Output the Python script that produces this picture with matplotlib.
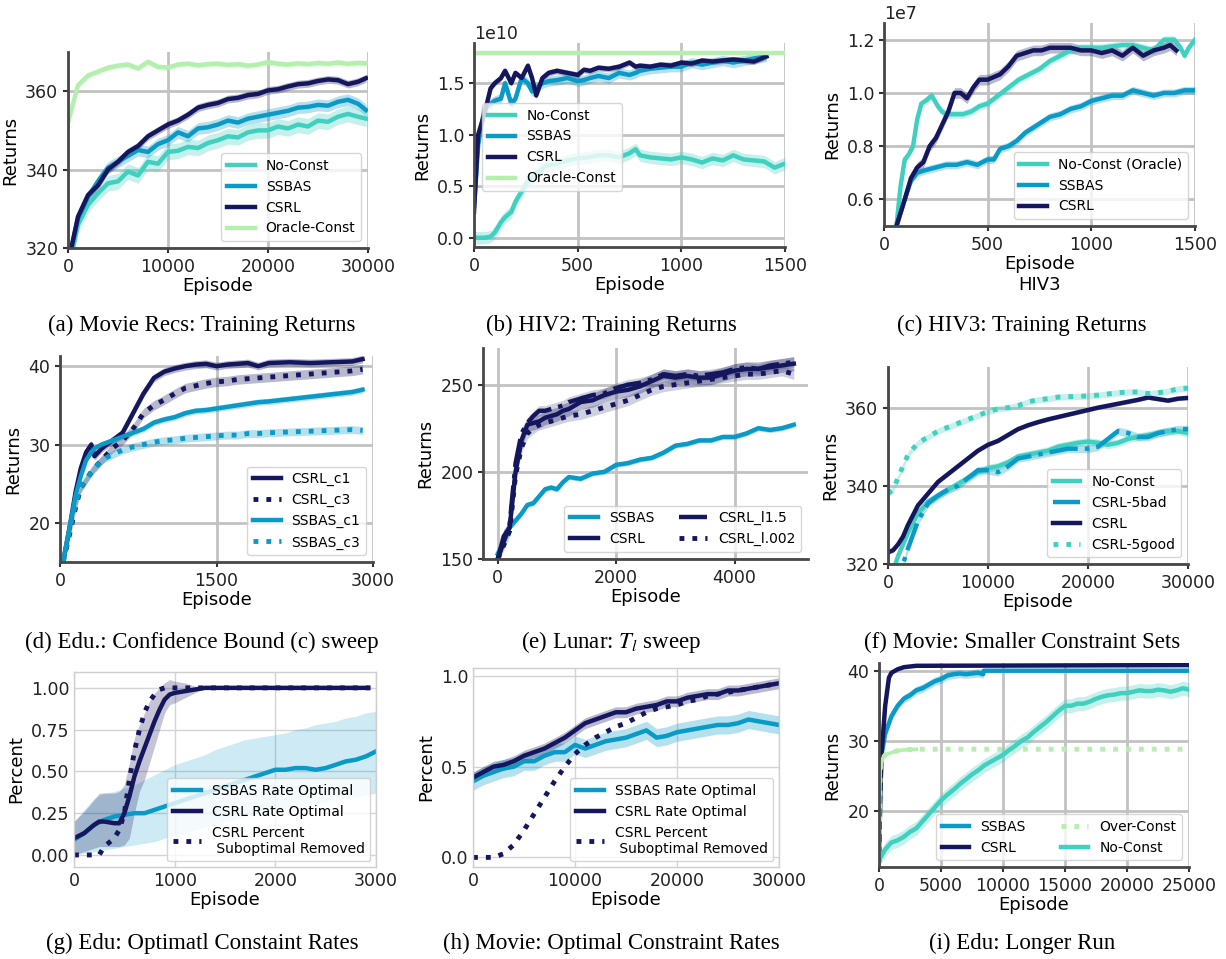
import matplotlib
matplotlib.use("Agg")
import numpy as np
import matplotlib.pyplot as plt

plt.rcParams['font.family'] = ['DejaVu Sans']
plt.rcParams['mathtext.fontset'] = 'stix'

TURQ = '#40d0c0'
SSB = '#0a9ac8'
NAVY = '#15175e'
LGREEN = '#b4efae'

# ---------------- data ----------------
# (a) Movie Recs: training returns
a_x = [0, 1000, 2000, 3000, 4000, 5000, 6000, 7000, 8000, 9000, 10000, 11000, 12000, 13000, 14000, 15000,
       16000, 17000, 18000, 19000, 20000, 21000, 22000, 23000, 24000, 25000, 26000, 27000, 28000, 29000, 29800]
a_oracle = [352, 361.5, 364, 365, 366, 366.5, 366.8, 365.8, 367.5, 366.2, 366, 366.8, 367, 366.6, 366.9, 367,
            366.7, 366.9, 366.5, 366.8, 367.4, 367, 366.8, 367.1, 366.9, 367.2, 367, 367.3, 367, 367.2, 367.1]
a_csrl = [316, 328, 333.5, 336, 340, 342, 344.5, 346, 348.5, 350, 351.5, 352.5, 354, 355.8, 356.5, 357,
          358, 358.3, 359, 359.3, 360.2, 360.5, 361.2, 361.8, 362, 362.6, 363, 362.8, 361.8, 362.4, 363.3]
a_ssbas = [316, 327.5, 333, 337, 340.5, 342, 343.5, 345, 344.5, 346.5, 347.5, 349.5, 348.5, 350.5, 350.8, 351.5,
           352.5, 352, 353, 353.5, 354, 354.5, 355, 355.8, 356, 356.5, 356.3, 357.3, 357.8, 356.8, 355.2]
a_noconst = [314, 326, 331, 334, 336.5, 337, 339.5, 338.5, 342, 341.5, 344.5, 344.8, 345.8, 345.5, 346.8, 347.5,
             348.5, 348.2, 349.5, 350, 350, 351, 350.5, 351.5, 351, 352.5, 352.2, 353.5, 354.2, 353.5, 353]

# (b) HIV2 (x1e10)
b_x = [0, 20, 50, 80, 100, 130, 150, 180, 200, 230, 260, 280, 300, 330, 360, 400, 450, 500, 530, 560,
       600, 650, 700, 750, 780, 800, 850, 900, 950, 1000, 1050, 1100, 1150, 1200, 1250, 1300, 1350, 1410]
b_csrl = [0.25, 1.0, 1.2, 1.45, 1.5, 1.55, 1.62, 1.5, 1.6, 1.55, 1.67, 1.55, 1.38, 1.55, 1.6, 1.62, 1.6, 1.58, 1.63, 1.62,
          1.65, 1.64, 1.66, 1.7, 1.66, 1.67, 1.66, 1.68, 1.67, 1.7, 1.69, 1.72, 1.71, 1.72, 1.73, 1.72, 1.71, 1.76]
b_ssbas = [0.3, 0.9, 1.25, 1.3, 1.33, 1.35, 1.5, 1.3, 1.35, 1.55, 1.5, 1.42, 1.45, 1.5, 1.52, 1.53, 1.55, 1.52, 1.53, 1.55,
           1.57, 1.55, 1.6, 1.58, 1.6, 1.62, 1.64, 1.65, 1.66, 1.66, 1.7, 1.68, 1.7, 1.72, 1.7, 1.72, 1.74, 1.76]
b_nc_x = [0, 50, 80, 100, 130, 150, 180, 200, 230, 260, 300, 350, 400, 450, 500, 550, 600, 650, 700, 750,
          780, 800, 850, 900, 950, 1000, 1050, 1100, 1150, 1200, 1250, 1300, 1350, 1400, 1450, 1500]
b_noconst = [0.0, 0.0, 0.01, 0.05, 0.15, 0.2, 0.25, 0.35, 0.45, 0.55, 0.62, 0.7, 0.72, 0.75, 0.77, 0.78, 0.8, 0.8, 0.78, 0.82,
             0.86, 0.8, 0.78, 0.77, 0.76, 0.78, 0.76, 0.73, 0.77, 0.75, 0.8, 0.76, 0.75, 0.74, 0.68, 0.72]
b_oracle_x = [0, 1500]
b_oracle = [1.79, 1.79]

# (c) HIV3 (x1e7)
c_nc_x = [60, 80, 100, 120, 140, 160, 180, 200, 230, 260, 280, 300, 330, 380, 420, 460, 500, 550, 600, 650,
          700, 750, 800, 850, 900, 950, 1000, 1050, 1100, 1150, 1200, 1250, 1300, 1350, 1400, 1430, 1450, 1470, 1500]
c_noconst = [0.5, 0.65, 0.75, 0.77, 0.8, 0.9, 0.96, 0.97, 0.99, 0.95, 0.93, 0.92, 0.92, 0.92, 0.93, 0.95, 0.96, 0.99, 1.02, 1.05,
             1.07, 1.09, 1.12, 1.14, 1.16, 1.17, 1.17, 1.17, 1.175, 1.18, 1.18, 1.17, 1.16, 1.2, 1.2, 1.17, 1.14, 1.17, 1.2]
c_csrl_x = [60, 100, 130, 160, 190, 220, 250, 280, 310, 340, 370, 400, 430, 460, 500, 530, 560, 600, 640, 680,
            720, 760, 800, 850, 900, 950, 1000, 1050, 1100, 1150, 1200, 1250, 1300, 1350, 1380, 1410]
c_csrl = [0.5, 0.6, 0.68, 0.72, 0.74, 0.8, 0.83, 0.88, 0.93, 1.0, 1.0, 0.98, 1.02, 1.05, 1.05, 1.06, 1.07, 1.1, 1.14, 1.15,
          1.16, 1.16, 1.17, 1.17, 1.17, 1.16, 1.16, 1.15, 1.16, 1.14, 1.17, 1.14, 1.16, 1.17, 1.18, 1.16]
c_ssbas_x = [60, 100, 130, 160, 200, 250, 300, 350, 400, 450, 500, 530, 560, 600, 640, 680, 720, 760, 800, 850,
             900, 950, 1000, 1050, 1100, 1150, 1200, 1250, 1300, 1350, 1400, 1450, 1500]
c_ssbas = [0.5, 0.6, 0.67, 0.7, 0.71, 0.72, 0.73, 0.73, 0.74, 0.73, 0.75, 0.75, 0.79, 0.8, 0.82, 0.85, 0.87, 0.89, 0.91, 0.92,
           0.94, 0.95, 0.97, 0.98, 0.99, 0.99, 1.01, 1.0, 0.99, 1.0, 1.0, 1.01, 1.01]

# (d) Edu confidence bound sweep
d_x = [30, 100, 150, 200, 250, 300, 330, 400, 500, 600, 700, 800, 900, 1000, 1100, 1200, 1300, 1400, 1500,
       1600, 1700, 1800, 1900, 2000, 2200, 2400, 2600, 2800, 2900]
d_csrl_c1 = [15, 20, 24, 27, 29, 30, 28.5, 29.5, 30.5, 31.5, 34, 36.5, 38.5, 39.3, 39.7, 40, 40.2, 40.3, 40,
             40.2, 40.3, 40.4, 40, 40.4, 40.5, 40.4, 40.5, 40.6, 40.9]
d_csrl_c3 = [15, 19, 22, 24.5, 25.5, 26.5, 27, 28, 29.5, 30.5, 32, 34, 35, 35.7, 36.5, 37.2, 37.5, 37.8, 38,
             38.1, 38.3, 38.4, 38.5, 38.6, 38.8, 39, 39.2, 39.4, 39.6]
d_ssbas_c1 = [15, 20, 23.5, 26, 28, 29, 29.5, 30, 30.5, 31, 31.5, 32, 32.8, 33.2, 33.5, 34, 34.3, 34.4, 34.6,
              34.8, 35, 35.2, 35.4, 35.5, 35.8, 36.1, 36.4, 36.7, 37]
d_ssbas_c3 = [15, 19.5, 22.5, 24.5, 25.5, 26.5, 27, 28, 28.7, 29.3, 29.7, 30, 30.3, 30.5, 30.6, 30.8, 30.9, 31, 31.1,
              31.2, 31.2, 31.4, 31.4, 31.5, 31.6, 31.7, 31.8, 31.9, 31.8]

# (e) Lunar T_l sweep
e_x = [0, 100, 200, 300, 400, 500, 600, 700, 800, 900, 1000, 1100, 1200, 1400, 1600, 1800, 2000, 2200, 2400, 2600,
       2800, 3000, 3200, 3400, 3600, 3800, 4000, 4200, 4400, 4600, 4800, 5000]
e_ssbas = [153, 160, 168, 172, 176, 181, 182, 186, 190, 191, 190, 194, 197, 196, 199, 200, 204, 205, 207, 208,
           211, 215, 216, 218, 218, 220, 220, 222, 225, 224, 225, 227]
e_csrl = [150, 163, 168, 200, 218, 227, 228, 229, 231, 232, 233, 235, 236, 240, 241, 244, 246, 247, 249, 252,
          255, 254, 255, 254, 254, 256, 258, 259, 259, 260, 261, 262]
e_l15 = [150, 160, 170, 205, 222, 228, 232, 235, 235, 236, 237, 238, 240, 242, 244, 245, 248, 250, 251, 253,
         256, 255, 256, 255, 256, 257, 259, 260, 259, 261, 262, 263]
e_l002 = [150, 158, 166, 198, 214, 222, 225, 227, 228, 229, 230, 231, 232, 233, 235, 237, 239, 241, 244, 247,
          249, 250, 251, 252, 253, 254, 255, 256, 256, 257, 258, 256]

# (f) Movie smaller constraint sets
f_x = [0, 500, 1000, 1500, 2000, 3000, 4000, 5000, 6000, 7000, 8000, 9000, 10000, 11000, 12000, 13000, 14000,
       15000, 16000, 17000, 18000, 19000, 20000, 21000, 22000, 23000, 24000, 25000, 26000, 27000, 28000, 29000, 30000]
f_good = [338, 339, 342, 345, 348, 351, 352.5, 354, 355, 356, 357, 358, 359, 359.7, 360, 360.5, 361.5,
          362, 362.3, 362.7, 362.8, 362.9, 363, 363.2, 363.5, 363.8, 364, 364, 363.6, 363.8, 364.2, 364.8, 365]
f_csrl = [323, 323.5, 325, 327, 330, 335, 338, 341, 343, 345, 347, 349, 350.5, 351.5, 353, 354.5, 355.5,
          356.3, 357, 357.6, 358.2, 358.8, 359.4, 360, 360.5, 361, 361.5, 362, 362.6, 362.2, 361.8, 362.3, 362.5]
f_noconst = [316, 318, 322, 325, 328, 333, 336, 337.5, 339, 340.5, 342, 343.5, 344.5, 345, 346, 347.5, 348,
             348.5, 349, 350, 350.5, 351, 351.3, 351, 350.5, 351, 352, 352.5, 353, 353.5, 354, 354, 353.5]
f_bad = [300, 310, 316, 320, 324, 331, 335.5, 337.5, 339, 340, 342, 344, 344, 343.5, 345, 347, 347.5,
         348, 348.5, 349, 349.5, 349.5, 349.5, 350, 352, 354, 353.5, 352.5, 352.5, 353.5, 354, 354.5, 354.5]

# (g) Edu optimal constraint rates
g_sx = [0, 100, 200, 300, 400, 500, 600, 700, 800, 900, 1000, 1100, 1200, 1300, 1400, 1500, 1600, 1700, 1800,
        1900, 2000, 2100, 2200, 2300, 2400, 2500, 2600, 2700, 2800, 2900, 3000]
g_ssbas = [0.09, 0.13, 0.18, 0.21, 0.23, 0.24, 0.25, 0.25, 0.27, 0.29, 0.31, 0.33, 0.35, 0.37, 0.39, 0.41, 0.43,
           0.45, 0.47, 0.49, 0.51, 0.51, 0.52, 0.52, 0.51, 0.52, 0.54, 0.56, 0.57, 0.59, 0.62]
g_ssbas_lo = [0.0, 0.01, 0.02, 0.03, 0.04, 0.05, 0.06, 0.07, 0.08, 0.1, 0.12, 0.13, 0.15, 0.17, 0.18, 0.2, 0.21,
              0.23, 0.24, 0.26, 0.27, 0.28, 0.29, 0.3, 0.31, 0.32, 0.33, 0.34, 0.35, 0.36, 0.37]
g_ssbas_hi = [0.2, 0.27, 0.34, 0.37, 0.38, 0.4, 0.42, 0.45, 0.48, 0.51, 0.54, 0.56, 0.58, 0.6, 0.63, 0.65, 0.67,
              0.69, 0.7, 0.71, 0.72, 0.73, 0.75, 0.76, 0.78, 0.79, 0.8, 0.82, 0.83, 0.85, 0.86]
g_cx = [0, 100, 200, 250, 300, 400, 450, 500, 550, 600, 650, 700, 750, 800, 850, 900, 950, 1000, 1100, 1200,
        1300, 1500, 2000, 2500, 2910]
g_csrl = [0.1, 0.13, 0.18, 0.2, 0.2, 0.19, 0.19, 0.25, 0.35, 0.47, 0.56, 0.64, 0.72, 0.8, 0.87, 0.93, 0.96, 0.97,
          0.98, 0.99, 1.0, 1.0, 1.0, 1.0, 1.0]
g_csrl_lo = [0.0, 0.02, 0.04, 0.05, 0.05, 0.05, 0.05, 0.06, 0.1, 0.25, 0.38, 0.45, 0.55, 0.65, 0.75, 0.85, 0.9, 0.91,
             0.94, 0.97, 1.0, 1.0, 1.0, 1.0, 1.0]
g_csrl_hi = [0.2, 0.26, 0.33, 0.37, 0.37, 0.37, 0.38, 0.42, 0.55, 0.7, 0.78, 0.85, 0.92, 0.97, 1.0, 1.03, 1.05, 1.04,
             1.03, 1.01, 1.0, 1.0, 1.0, 1.0, 1.0]
g_rx = [0, 250, 300, 400, 450, 500, 550, 600, 650, 700, 750, 800, 850, 900, 1000, 2000, 3000]
g_removed = [0.0, 0.0, 0.05, 0.1, 0.15, 0.25, 0.45, 0.62, 0.75, 0.85, 0.92, 0.96, 0.99, 1.0, 1.0, 1.0, 1.0]

# (h) Movie optimal constraint rates
h_x = [0, 1000, 2000, 3000, 4000, 5000, 6000, 7000, 8000, 9000, 10000, 11000, 12000, 13000, 14000, 15000,
       16000, 17000, 18000, 19000, 20000, 21000, 22000, 23000, 24000, 25000, 26000, 27000, 28000, 29000, 30000]
h_ssbas = [0.42, 0.45, 0.47, 0.49, 0.5, 0.53, 0.53, 0.56, 0.58, 0.58, 0.62, 0.6, 0.62, 0.64, 0.65, 0.66,
           0.68, 0.7, 0.66, 0.67, 0.69, 0.7, 0.71, 0.72, 0.73, 0.73, 0.74, 0.76, 0.75, 0.74, 0.73]
h_csrl = [0.44, 0.47, 0.5, 0.51, 0.53, 0.56, 0.58, 0.6, 0.63, 0.66, 0.7, 0.74, 0.76, 0.78, 0.8, 0.8,
          0.82, 0.83, 0.84, 0.86, 0.86, 0.88, 0.89, 0.9, 0.9, 0.92, 0.92, 0.93, 0.94, 0.95, 0.96]
h_removed = [0.0, 0.0, 0.0, 0.02, 0.07, 0.15, 0.24, 0.33, 0.42, 0.5, 0.57, 0.62, 0.66, 0.69, 0.72, 0.74,
             0.77, 0.8, 0.82, 0.83, 0.84, 0.86, 0.87, 0.89, 0.9, 0.91, 0.92, 0.93, 0.94, 0.95, 0.96]

# (i) Edu longer run
i_csrl_x = [0, 100, 200, 500, 800, 1000, 1500, 2000, 3000, 25000]
i_csrl = [13, 22, 28, 35, 39, 39.7, 40.2, 40.5, 40.7, 40.8]
i_ssbas_x = [0, 100, 200, 500, 1000, 1500, 2000, 2500, 3000, 3500, 4000, 4500, 5000, 5500, 6000, 6500, 7000,
             7500, 8000, 8400, 8450, 25000]
i_ssbas = [13, 22, 28, 31, 33.5, 35, 36, 36.5, 37.2, 37.5, 38, 38.5, 38.8, 39.3, 39.5, 39.6, 39.5,
           39.6, 39.7, 39.5, 40, 40]
i_over_x = [0, 100, 300, 500, 1000, 1500, 2000, 3000, 25000]
i_over = [13, 26, 27.5, 28, 28.3, 28.6, 28.7, 28.8, 28.8]
i_nc_x = list(range(0, 25001, 500))
i_noconst = [13, 14.5, 15.5, 15.8, 16.3, 17, 17.5, 18.5, 19.5, 20.5, 21.5, 22.3, 23, 23.8, 24.5, 25.2, 25.8,
             26.5, 27, 27.5, 28, 28.7, 29.3, 30, 30.5, 31.3, 32, 32.7, 33.5, 34.3, 35, 35, 35.3, 35.3, 35.6,
             36, 36.3, 36.5, 36.6, 36.8, 36.8, 37, 37.2, 37.1, 37.1, 37.3, 37.2, 37, 37.2, 37.5, 37.3]

captions = ['(a) Movie Recs: Training Returns', '(b) HIV2: Training Returns', '(c) HIV3: Training Returns',
            '(d) Edu.: Confidence Bound (c) sweep', '(e) Lunar: $T_l$ sweep', '(f) Movie: Smaller Constraint Sets',
            '(g) Edu: Optimatl Constaint Rates', '(h) Movie: Optimal Constraint Rates', '(i) Edu: Longer Run']

# ---------------- layout ----------------
W, H = 1226, 959
fig = plt.figure(figsize=(W / 100, H / 100), dpi=100)
LW = 3.2
TICK = 12.5


def add_ax(l, t, r, b):
    return fig.add_axes([l / W, 1 - b / H, (r - l) / W, (b - t) / H])


def style_dark(ax):
    ax.grid(True, color='#c2c2c2', lw=2)
    ax.set_axisbelow(True)
    for s in ['top', 'right']:
        ax.spines[s].set_visible(False)
    for s in ['left', 'bottom']:
        ax.spines[s].set_color('#484848')
        ax.spines[s].set_linewidth(2)
    ax.tick_params(labelsize=TICK, length=3.5, width=1.5, color='#333333', labelcolor='#222222')


def style_light(ax):
    ax.grid(True, color='#d4d4d4', lw=1)
    ax.set_axisbelow(True)
    for s in ax.spines.values():
        s.set_color('#cfcfcf')
        s.set_linewidth(1)
    ax.tick_params(labelsize=TICK, length=0, labelcolor='#222222')


def band(ax, x, y, w, color, alpha=0.3):
    y = np.asarray(y, dtype=float)
    ax.fill_between(x, y - w, y + w, color=color, alpha=alpha, lw=0)


def legend(ax, **kw):
    opts = dict(fontsize=10, framealpha=0.8, edgecolor='#cccccc', handlelength=2.0)
    opts.update(kw)
    return ax.legend(**opts)


def labels(ax, xl='Episode', yl='Returns'):
    ax.set_xlabel(xl, fontsize=13, labelpad=1)
    ax.set_ylabel(yl, fontsize=13)


# (a)
ax = add_ax(68, 52, 368, 248)
style_dark(ax)
band(ax, a_x, a_noconst, 2.0, TURQ)
band(ax, a_x, a_ssbas, 1.5, SSB)
band(ax, a_x, a_csrl, 1.0, NAVY)
band(ax, a_x, a_oracle, 0.8, LGREEN)
ax.plot(a_x, a_noconst, color=TURQ, lw=LW, label='No-Const')
ax.plot(a_x, a_ssbas, color=SSB, lw=LW, label='SSBAS')
ax.plot(a_x, a_csrl, color=NAVY, lw=LW, label='CSRL')
ax.plot(a_x, a_oracle, color=LGREEN, lw=LW, label='Oracle-Const')
ax.set_xlim(0, 30000)
ax.set_ylim(320, 370)
ax.set_xticks([0, 10000, 20000, 30000])
ax.set_yticks([320, 340, 360])
labels(ax)
legend(ax, loc='lower right')

# (b)
ax = add_ax(474, 43, 785, 247)
style_dark(ax)
band(ax, b_nc_x, np.array(b_noconst) * 1e10, 0.06e10, TURQ)
band(ax, b_x, np.array(b_ssbas) * 1e10, 0.05e10, SSB)
band(ax, b_x, np.array(b_csrl) * 1e10, 0.03e10, NAVY)
ax.plot(b_nc_x, np.array(b_noconst) * 1e10, color=TURQ, lw=LW, label='No-Const')
ax.plot(b_x, np.array(b_ssbas) * 1e10, color=SSB, lw=LW, label='SSBAS')
ax.plot(b_x, np.array(b_csrl) * 1e10, color=NAVY, lw=LW, label='CSRL')
ax.plot(b_oracle_x, np.array(b_oracle) * 1e10, color=LGREEN, lw=LW, label='Oracle-Const')
ax.set_xlim(0, 1500)
ax.set_ylim(-0.09e10, 1.89e10)
ax.set_xticks([0, 500, 1000, 1500])
ax.set_yticks([0, 0.5e10, 1.0e10, 1.5e10])
ax.yaxis.get_offset_text().set_fontsize(TICK)
labels(ax)
legend(ax, loc='upper left', bbox_to_anchor=(0.026, 0.706), borderaxespad=0)

# (c)
ax = add_ax(884, 23, 1195, 226)
style_dark(ax)
band(ax, c_nc_x, np.array(c_noconst) * 1e7, 0.015e7, TURQ)
band(ax, c_ssbas_x, np.array(c_ssbas) * 1e7, 0.015e7, SSB)
band(ax, c_csrl_x, np.array(c_csrl) * 1e7, 0.02e7, NAVY)
ax.plot(c_nc_x, np.array(c_noconst) * 1e7, color=TURQ, lw=LW, label='No-Const (Oracle)')
ax.plot(c_ssbas_x, np.array(c_ssbas) * 1e7, color=SSB, lw=LW, label='SSBAS')
ax.plot(c_csrl_x, np.array(c_csrl) * 1e7, color=NAVY, lw=LW, label='CSRL')
ax.set_xlim(0, 1500)
ax.set_ylim(0.5e7, 1.263e7)
ax.set_xticks([0, 500, 1000, 1500])
ax.set_yticks([0.6e7, 0.8e7, 1.0e7, 1.2e7])
ax.yaxis.get_offset_text().set_fontsize(TICK)
labels(ax, xl='Episode\nHIV3')
legend(ax, loc='lower right')

# (d)
ax = add_ax(60, 356, 373, 562)
style_dark(ax)
band(ax, d_x, d_csrl_c1, 0.5, NAVY)
band(ax, d_x, d_csrl_c3, 0.6, NAVY)
band(ax, d_x, d_ssbas_c1, 0.4, SSB)
band(ax, d_x, d_ssbas_c3, 0.5, SSB)
ax.plot(d_x, d_csrl_c1, color=NAVY, lw=LW, label='CSRL_c1')
ax.plot(d_x, d_csrl_c3, color=NAVY, lw=LW + 0.3, ls=':', label='CSRL_c3')
ax.plot(d_x, d_ssbas_c1, color=SSB, lw=LW, label='SSBAS_c1')
ax.plot(d_x, d_ssbas_c3, color=SSB, lw=LW + 0.3, ls=':', label='SSBAS_c3')
ax.set_xlim(0, 3000)
ax.set_ylim(15, 41.3)
ax.set_xticks([0, 1500, 3000])
ax.set_yticks([20, 30, 40])
labels(ax)
legend(ax, loc='lower right')

# (e)
ax = add_ax(483, 348, 808, 559)
style_dark(ax)
band(ax, e_x, e_ssbas, 1.5, SSB)
band(ax, e_x, e_csrl, 4.0, NAVY)
band(ax, e_x, e_l15, 3.0, NAVY, 0.2)
band(ax, e_x, e_l002, 3.0, NAVY, 0.2)
ax.plot(e_x, e_ssbas, color=SSB, lw=LW, label='SSBAS')
ax.plot(e_x, e_csrl, color=NAVY, lw=LW, label='CSRL')
ax.plot(e_x, e_l15, color=NAVY, lw=LW, ls='-.', label='CSRL_l1.5')
ax.plot(e_x, e_l002, color=NAVY, lw=LW + 0.3, ls=':', label='CSRL_l.002')
ax.set_xlim(-250, 5240)
ax.set_ylim(150, 271)
ax.set_xticks([0, 2000, 4000])
ax.set_yticks([150, 200, 250])
labels(ax)
legend(ax, loc='lower right', ncol=2, columnspacing=1.8)

# (f)
ax = add_ax(888, 367, 1188, 564)
style_dark(ax)
band(ax, f_x, f_noconst, 1.0, TURQ)
band(ax, f_x, f_bad, 1.0, SSB)
band(ax, f_x, f_csrl, 0.5, NAVY)
band(ax, f_x, f_good, 0.8, TURQ)
ax.plot(f_x, f_noconst, color=TURQ, lw=LW, label='No-Const')
ax.plot(f_x, f_bad, color=SSB, lw=LW, ls='-.', label='CSRL-5bad')
ax.plot(f_x, f_csrl, color=NAVY, lw=LW, label='CSRL')
ax.plot(f_x, f_good, color=TURQ, lw=LW + 0.3, ls=':', label='CSRL-5good')
ax.set_xlim(0, 30000)
ax.set_ylim(320, 370.4)
ax.set_xticks([0, 10000, 20000, 30000])
ax.set_yticks([320, 340, 360])
labels(ax)
legend(ax, loc='lower right')

# (g)
ax = add_ax(74, 672, 376, 867)
style_light(ax)
ax.fill_between(g_sx, g_ssbas_lo, g_ssbas_hi, color=SSB, alpha=0.2, lw=0)
ax.fill_between(g_cx, g_csrl_lo, g_csrl_hi, color=NAVY, alpha=0.25, lw=0)
ax.plot(g_sx, g_ssbas, color=SSB, lw=LW, label='SSBAS Rate Optimal')
ax.plot(g_cx, g_csrl, color=NAVY, lw=LW, label='CSRL Rate Optimal')
ax.plot(g_rx, g_removed, color=NAVY, lw=LW + 0.3, ls=':', label='CSRL Percent\n Suboptimal Removed')
ax.set_xlim(0, 3000)
ax.set_ylim(-0.072, 1.095)
ax.set_xticks([0, 1000, 2000, 3000])
ax.set_yticks([0.0, 0.25, 0.5, 0.75, 1.0])
labels(ax, yl='Percent')
legend(ax, loc='lower right', borderaxespad=0.4)

# (h)
ax = add_ax(473, 668, 779, 867)
style_light(ax)
band(ax, h_x, h_ssbas, 0.05, SSB)
band(ax, h_x, h_csrl, 0.03, NAVY)
ax.plot(h_x, h_ssbas, color=SSB, lw=LW, label='SSBAS Rate Optimal')
ax.plot(h_x, h_csrl, color=NAVY, lw=LW, label='CSRL Rate Optimal')
ax.plot(h_x, h_removed, color=NAVY, lw=LW + 0.3, ls=':', label='CSRL Percent\n Suboptimal Removed')
ax.set_xlim(0, 30000)
ax.set_ylim(-0.053, 1.044)
ax.set_xticks([0, 10000, 20000, 30000])
ax.set_yticks([0.0, 0.5, 1.0])
labels(ax, yl='Percent')
legend(ax, loc='lower right', borderaxespad=0.4)

# (i)
ax = add_ax(879, 663, 1189, 867)
style_dark(ax)
band(ax, i_nc_x, i_noconst, 1.0, TURQ)
band(ax, i_ssbas_x[:20], i_ssbas[:20], 0.6, SSB)
ax.plot(i_ssbas_x, i_ssbas, color=SSB, lw=LW, label='SSBAS')
ax.plot(i_csrl_x, i_csrl, color=NAVY, lw=LW, label='CSRL')
# early, noisy part of the over-constrained run reads as a solid stroke
ax.plot(i_over_x[:8], i_over[:8], color=LGREEN, lw=LW - 0.6)
ax.plot(i_over_x, i_over, color=LGREEN, lw=LW + 0.3, ls=':', label='Over-Const')
ax.plot(i_nc_x, i_noconst, color=TURQ, lw=LW, label='No-Const')
ax.set_xlim(0, 25000)
ax.set_ylim(12, 41.1)
ax.set_xticks([0, 5000, 10000, 15000, 20000, 25000])
ax.set_yticks([20, 30, 40])
labels(ax)
legend(ax, loc='lower right', ncol=2, columnspacing=2.5)

# captions
cap_pos = [(202, 325), (611, 325), (1022, 325),
           (202, 642), (611, 642), (1022, 642),
           (202, 943), (611, 943), (1022, 943)]
for txt, (cx, cy) in zip(captions, cap_pos):
    fig.text(cx / W, 1 - cy / H, txt, ha='center', va='center',
             family=['Liberation Serif', 'DejaVu Serif'], fontsize=16.5)

fig.savefig('out.png', dpi=100)
